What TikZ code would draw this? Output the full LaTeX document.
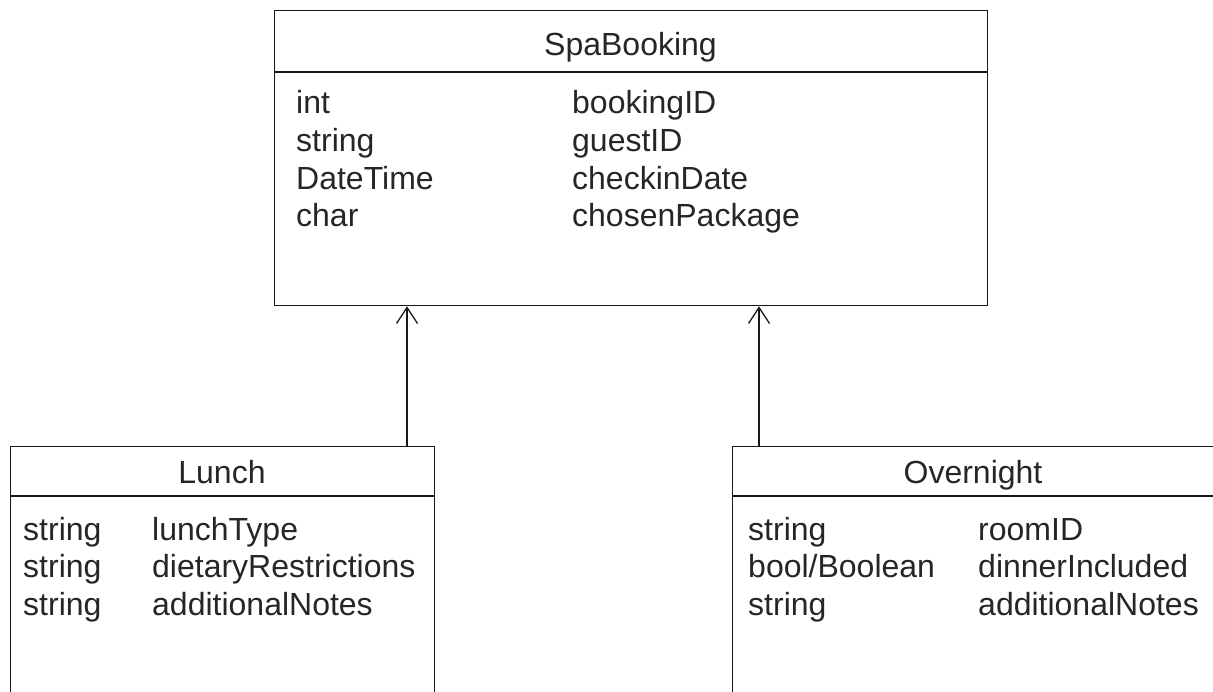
\documentclass[tikz,border=0pt]{standalone}
\usepackage{fontspec}
\setmainfont{Liberation Sans}
\usetikzlibrary{arrows.meta}

\tikzset{
	classbox/.style={draw=black!90, line width=1.3pt, anchor=north west, inner sep=0pt},
	attr/.style={anchor=base west, inner sep=0pt, text=black!85, font=\fontsize{32}{38}\selectfont},
	classname/.style={anchor=base, inner sep=0pt, text=black!85, font=\fontsize{32}{38}\selectfont},
	inherit/.style={draw=black!90, line width=1.3pt, -{Straight Barb[length=16pt, width=21pt, line width=1.3pt]}}
}

\begin{document}
\begin{tikzpicture}[x=1pt, y=-1pt]
		\useasboundingbox (0,0) rectangle (1213,691);
		\clip (0,0) rectangle (1213,691);
		% SpaBooking
		\node[classbox, minimum width=713pt, minimum height=295pt] (spa) at (274,10) {};
		\draw[line width=1.3pt, draw=black!90] (274,72) -- (987,72);
		\node[classname] (spaname) at (630.5,55) {SpaBooking};
		\foreach \t/\n [count=\i] in {int/bookingID, string/guestID, DateTime/checkinDate, char/chosenPackage}
		{
			\node[attr] (spatype\i) at (296, 76+37.7*\i) {\t};
			\node[attr] (spafield\i) at (572, 76+37.7*\i) {\n};
		}
		% Lunch
		\node[classbox, minimum width=424pt, minimum height=280pt] (lunch) at (10,446) {};
		\draw[line width=1.3pt, draw=black!90] (10,496) -- (434,496);
		\node[classname] (lunchname) at (222,483) {Lunch};
		\foreach \t/\n [count=\i] in {string/lunchType, string/dietaryRestrictions, string/additionalNotes}
		{
			\node[attr] (lunchtype\i) at (23, 502.5+37.5*\i) {\t};
			\node[attr] (lunchfield\i) at (152, 502.5+37.5*\i) {\n};
		}
		% Overnight
		\node[classbox, minimum width=484pt, minimum height=280pt] (night) at (732,446) {};
		\draw[line width=1.3pt, draw=black!90] (732,496) -- (1216,496);
		\node[classname] (nightname) at (973,483) {Overnight};
		\foreach \t/\n [count=\i] in {string/roomID, {bool/Boolean}/dinnerIncluded, string/additionalNotes}
		{
			\node[attr] (nighttype\i) at (748, 502.5+37.5*\i) {\t};
			\node[attr] (nightfield\i) at (978, 502.5+37.5*\i) {\n};
		}
		% inheritance arrows
		\coordinate (lunchup) at (407,0);
		\coordinate (nightup) at (759,0);
		\draw[inherit] (lunch.north -| lunchup) -- (spa.south -| lunchup);
		\draw[inherit] (night.north -| nightup) -- (spa.south -| nightup);
	\end{tikzpicture}
\end{document}
